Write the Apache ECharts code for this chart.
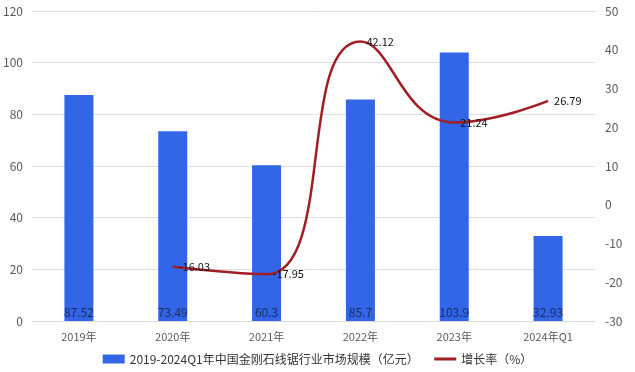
<!DOCTYPE html>
<html><head><meta charset="utf-8">
<script src="https://cdn.jsdelivr.net/npm/echarts@6/dist/echarts.min.js"></script>
<style>html,body{margin:0;padding:0;background:#fff}#c{width:635px;height:372px}</style>
</head><body><div id="c"></div>
<script>
const categories = ['2019年','2020年','2021年','2022年','2023年','2024年Q1'];
const marketSize = [87.52, 73.49, 60.3, 85.7, 103.9, 32.93];
const growthRate = [null, -16.03, -17.95, 42.12, 21.24, 26.79];
const barName = '2019-2024Q1年中国金刚石线锯行业市场规模（亿元）';
const lineName = '增长率（%）';
const font = '"Noto Sans CJK SC", "Microsoft YaHei", sans-serif';
const chart = echarts.init(document.getElementById('c'));
chart.setOption({
  animation: false,
  textStyle: {fontFamily: font},
  grid: {left: 30, right: 40, top: 11, bottom: 51},
  legend: {
    bottom: 2, left: 'center', itemGap: 14, itemWidth: 22, itemHeight: 9,
    textStyle: {fontSize: 12, color: '#333', fontFamily: font},
    data: [{name: barName, icon: 'rect'},
           {name: lineName, itemStyle: {opacity: 0}, lineStyle: {color: '#a01e24', width: 3}}]
  },
  xAxis: {
    type: 'category', data: categories,
    axisLine: {lineStyle: {color: '#d9d9d9'}},
    axisTick: {show: false},
    axisLabel: {color: '#595959', fontSize: 11, margin: 10}
  },
  yAxis: [
    {type: 'value', min: 0, max: 120, interval: 20,
     axisLine: {show: false}, axisTick: {show: false},
     axisLabel: {color: '#595959', fontSize: 12, margin: 9},
     splitLine: {lineStyle: {color: '#dedede'}}},
    {type: 'value', min: -30, max: 50, interval: 10,
     axisLine: {show: false}, axisTick: {show: false},
     axisLabel: {color: '#595959', fontSize: 12, margin: 10},
     splitLine: {show: false}}
  ],
  series: [
    {name: barName, type: 'bar', data: marketSize, barWidth: 29,
     itemStyle: {color: '#3366e6'},
     label: {show: true, position: 'insideBottom', distance: 3, color: '#1c2a5e', fontSize: 12}},
    {name: lineName, type: 'line', yAxisIndex: 1, data: growthRate, smooth: 0.5,
     connectNulls: false, symbol: 'circle', symbolSize: 0, showSymbol: true,
     lineStyle: {color: '#a01e24', width: 2.5},
     itemStyle: {color: '#a01e24'},
     label: {show: true, position: 'right', distance: 6, color: '#111', fontSize: 11}}
  ]
});
</script></body></html>
